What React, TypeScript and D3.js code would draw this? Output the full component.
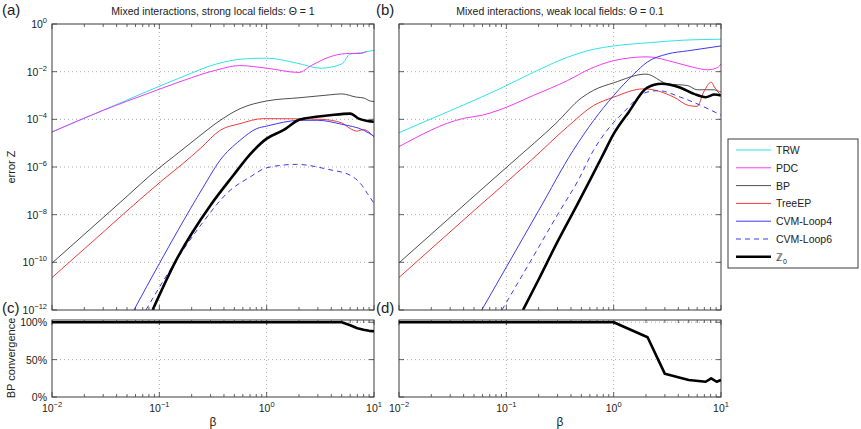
import * as d3 from "d3";

type Pt = [number, number]; // [beta, value]

// (a) mixed interactions, strong local fields (Θ = 1): error in Z
const trwStrong: Pt[] = [[0.01, 2.95e-5], [0.03, 2.4e-4], [0.08, 1.6e-3], [0.166, 6.2e-3], [0.34, 2.1e-2], [0.6, 3.4e-2], [1, 3.7e-2], [1.9, 2.3e-2], [3.2, 1.4e-2], [5.0, 2.1e-2], [6.0, 5.5e-2], [8.1, 6.5e-2], [10, 7.9e-2]];
const pdcStrong: Pt[] = [[0.01, 2.95e-5], [0.03, 2.4e-4], [0.08, 1.26e-3], [0.166, 4.2e-3], [0.34, 1.17e-2], [0.56, 1.8e-2], [1, 1.4e-2], [2.0, 9.3e-3], [2.6, 1.8e-2], [4.2, 4.7e-2], [5.9, 5.8e-2], [7.5, 5.8e-2], [8.5, 7.1e-2]];
const bpStrong: Pt[] = [[0.01, 9.3e-11], [0.03, 7.6e-9], [0.05, 5.9e-8], [0.08, 4.0e-7], [0.166, 5.6e-6], [0.24, 2.1e-5], [0.367, 8.9e-5], [0.565, 2.8e-4], [1, 5.9e-4], [2.05, 8.1e-4], [3.9, 1.07e-3], [5.0, 1.17e-3], [6.9, 8.5e-4], [8, 7.9e-4], [9.3, 5.8e-4], [10, 5.6e-4]];
const treeEpStrong: Pt[] = [[0.01, 2.3e-11], [0.03, 1.86e-9], [0.05, 1.45e-8], [0.108, 2.9e-7], [0.166, 1.4e-6], [0.24, 5.9e-6], [0.37, 3.5e-5], [0.565, 6.6e-5], [0.93, 1.07e-4], [1.9, 1.05e-4], [3.2, 1.0e-4], [5.0, 7.1e-5], [6.0, 4.1e-5], [6.9, 3.2e-5], [8, 3.7e-5], [10, 1.8e-5]];
const loop4Strong: Pt[] = [[0.058, 1e-12], [0.1, 8.9e-11], [0.15, 2.3e-9], [0.257, 1.45e-7], [0.367, 1.9e-6], [0.565, 1.32e-5], [0.81, 4.1e-5], [1, 5.2e-5], [2.05, 9.1e-5], [3.0, 9.1e-5], [5.0, 6.2e-5], [8, 3.5e-5], [10, 1.95e-5]];
const loop6Strong: Pt[] = [[0.075, 1e-12], [0.115, 2.5e-11], [0.237, 3.1e-9], [0.457, 1.05e-7], [0.7, 3.8e-7], [1, 9.3e-7], [1.9, 1.29e-6], [3.76, 7.9e-7], [6.0, 4.5e-7], [7.5, 2.0e-7], [8.7, 7.6e-8], [10, 3.0e-8]];
const z0Strong: Pt[] = [[0.0866, 1e-12], [0.144, 1.26e-10], [0.3, 2.5e-8], [0.49, 4.5e-7], [0.7, 3.4e-6], [1, 1.55e-5], [1.43, 3.5e-5], [2.04, 9.8e-5], [3.9, 1.48e-4], [6.0, 1.74e-4], [7.2, 1.07e-4], [8.7, 8.5e-5], [10, 7.9e-5]];

// (b) mixed interactions, weak local fields (Θ = 0.1): error in Z
const trwWeak: Pt[] = [[0.01, 2.75e-5], [0.03, 2.3e-4], [0.0866, 1.9e-3], [0.178, 9.3e-3], [0.37, 4.0e-2], [0.65, 8.7e-2], [1, 0.12], [2.2, 0.166], [4.5, 0.21], [10, 0.23]];
const pdcWeak: Pt[] = [[0.01, 7.1e-6], [0.04, 1.1e-4], [0.06, 1.5e-4], [0.0866, 2.5e-4], [0.178, 1.0e-3], [0.37, 4.2e-3], [0.6, 1.3e-2], [1, 2.9e-2], [2.05, 4.2e-2], [3.65, 2.5e-2], [5.6, 1.5e-2], [7.5, 1.2e-2], [9.3, 1.5e-2], [10, 2.1e-2]];
const bpWeak: Pt[] = [[0.01, 9.5e-11], [0.05, 6.0e-8], [0.115, 1.66e-6], [0.29, 6.8e-5], [0.5, 7.9e-4], [0.65, 1.66e-3], [1, 3.4e-3], [2.0, 7.9e-3], [3.16, 3.1e-3], [4.9, 2.6e-3], [6.0, 1.74e-3], [8.7, 1.74e-3], [10, 1.0e-3]];
const treeEpWeak: Pt[] = [[0.01, 2.3e-11], [0.05, 1.48e-8], [0.171, 1.95e-6], [0.37, 4.8e-5], [0.65, 3.8e-4], [1, 8.5e-4], [1.9, 1.9e-3], [3.65, 8.5e-4], [5.0, 3.8e-4], [6.0, 3.5e-4], [6.9, 1.4e-3], [8.1, 3.6e-3], [8.9, 1.9e-3], [10, 1.4e-3]];
const loop4Weak: Pt[] = [[0.059, 1e-12], [0.1, 6.3e-11], [0.2, 1.48e-8], [0.42, 5.0e-6], [0.65, 8.9e-5], [1, 1.0e-3], [1.54, 7.9e-3], [2.05, 2.5e-2], [3.16, 5.5e-2], [4.9, 7.5e-2], [10, 0.12]];
const loop6Weak: Pt[] = [[0.091, 1e-12], [0.2, 4.3e-10], [0.3, 1e-8], [0.47, 2.9e-7], [0.65, 5.1e-6], [0.87, 3.5e-5], [1.24, 2.0e-4], [2.04, 1.38e-3], [2.6, 1.6e-3], [4.2, 8.5e-4], [6.5, 3.8e-4], [10, 1.5e-4]];
const z0Weak: Pt[] = [[0.143, 1e-12], [0.2, 1.9e-11], [0.3, 7.4e-10], [0.45, 2.3e-8], [0.61, 3.2e-7], [0.78, 2.75e-6], [1, 2.45e-5], [1.38, 2.0e-4], [2.04, 2.1e-3], [2.8, 3.1e-3], [4.2, 2.1e-3], [5.6, 1.17e-3], [7.2, 8.5e-4], [8.7, 1.1e-3], [10, 1.0e-3]];

// (c), (d) fraction of instances where BP converged
const convStrong: Pt[] = [[0.01, 1], [5, 1], [6, 0.96], [7, 0.92], [8, 0.9], [9, 0.885], [10, 0.88]];
const convWeak: Pt[] = [[0.01, 1], [1, 1], [2.07, 0.8], [3, 0.31], [5, 0.227], [7.2, 0.204], [8.1, 0.25], [9.1, 0.204], [10, 0.227]];

const methodNames = ["TRW", "PDC", "BP", "TreeEP", "CVM-Loop4", "CVM-Loop6", "Z0"];
const styles: Record<string, { color: string; width: number; dash?: string }> = {
  TRW: { color: "#2fe3e6", width: 1 },
  PDC: { color: "#f03cf0", width: 1 },
  BP: { color: "#3a3a3a", width: 0.9 },
  TreeEP: { color: "#f23a3a", width: 1 },
  "CVM-Loop4": { color: "#3a3af2", width: 1 },
  "CVM-Loop6": { color: "#3a3af2", width: 1, dash: "5,4" },
  Z0: { color: "#000", width: 2.6 },
};

const strongSeries = [trwStrong, pdcStrong, bpStrong, treeEpStrong, loop4Strong, loop6Strong, z0Strong];
const weakSeries = [trwWeak, pdcWeak, bpWeak, treeEpWeak, loop4Weak, loop6Weak, z0Weak];

const errTicks = [1, 1e-2, 1e-4, 1e-6, 1e-8, 1e-10, 1e-12];
const betaTicks = [0.01, 0.1, 1, 10];
const convTicks = [0, 0.5, 1];

const FONT = "'Liberation Sans', Arial, sans-serif";
const frameColor = "#3c3c3c";
const gridColor = "#9a9a9a";

const TOP = 24, BOT = 310, CTOP = 320, CBOT = 397;
const yErr = d3.scaleLog().domain([1e-12, 1]).range([BOT, TOP]);
const yConv = d3.scaleLinear().domain([0, 1.03]).range([CBOT, CTOP]);

const minorBetas: number[] = [];
for (const dec of [0.01, 0.1, 1]) for (let k = 2; k <= 9; k++) minorBetas.push(dec * k);

function Pow({ x, y, exp, anchor }: { x: number; y: number; exp: number; anchor: "end" | "middle" }) {
  const e = exp < 0 ? `\u2212${-exp}` : `${exp}`;
  return (
    <text x={x} y={y} textAnchor={anchor} fontSize={10.5} fontFamily={FONT} fill="#222">
      10<tspan dy={-5} fontSize={7.5}>{e}</tspan>
    </text>
  );
}

function XTicks({ x, y0, y1 }: { x: d3.ScaleLogarithmic<number, number>; y0: number; y1: number }) {
  return (
    <g stroke={frameColor} strokeWidth={0.8}>
      {betaTicks.map((b) => (
        <g key={"M" + b}>
          <line x1={x(b)} x2={x(b)} y1={y1} y2={y1 - 5} />
          <line x1={x(b)} x2={x(b)} y1={y0} y2={y0 + 5} />
        </g>
      ))}
      {minorBetas.map((b) => (
        <g key={"m" + b}>
          <line x1={x(b)} x2={x(b)} y1={y1} y2={y1 - 3} />
          <line x1={x(b)} x2={x(b)} y1={y0} y2={y0 + 3} />
        </g>
      ))}
    </g>
  );
}

function ErrorPanel({ x, series, id, showLabels }: { x: d3.ScaleLogarithmic<number, number>; series: Pt[][]; id: string; showLabels: boolean }) {
  const [x0, x1] = x.range();
  const line = d3
    .line<Pt>()
    .x((d) => x(d[0]))
    .y((d) => yErr(d[1]))
    .curve(d3.curveMonotoneX);
  return (
    <g>
      <clipPath id={id}>
        <rect x={x0} y={TOP} width={x1 - x0} height={BOT - TOP} />
      </clipPath>
      <g stroke={gridColor} strokeWidth={0.8} strokeDasharray="1,3">
        {[0.1, 1].map((b) => (
          <line key={b} x1={x(b)} x2={x(b)} y1={TOP} y2={BOT} />
        ))}
        {errTicks.slice(1, -1).map((v) => (
          <line key={v} x1={x0} x2={x1} y1={yErr(v)} y2={yErr(v)} />
        ))}
      </g>
      <g clipPath={`url(#${id})`} fill="none" strokeLinejoin="round">
        {series.map((s, i) => {
          const st = styles[methodNames[i]];
          return <path key={i} d={line(s) ?? ""} stroke={st.color} strokeWidth={st.width} strokeDasharray={st.dash} />;
        })}
      </g>
      <XTicks x={x} y0={TOP} y1={BOT} />
      <g stroke={frameColor} strokeWidth={0.8}>
        {errTicks.map((v) => (
          <g key={v}>
            <line x1={x0} x2={x0 + 5} y1={yErr(v)} y2={yErr(v)} />
            <line x1={x1} x2={x1 - 5} y1={yErr(v)} y2={yErr(v)} />
          </g>
        ))}
      </g>
      <rect x={x0} y={TOP} width={x1 - x0} height={BOT - TOP} fill="none" stroke={frameColor} strokeWidth={1} />
      {showLabels &&
        errTicks.map((v) => <Pow key={v} x={x0 - 5} y={yErr(v) + 4} exp={Math.round(Math.log10(v))} anchor="end" />)}
    </g>
  );
}

function ConvPanel({ x, data, id, showLabels }: { x: d3.ScaleLogarithmic<number, number>; data: Pt[]; id: string; showLabels: boolean }) {
  const [x0, x1] = x.range();
  const line = d3
    .line<Pt>()
    .x((d) => x(d[0]))
    .y((d) => yConv(d[1]));
  return (
    <g>
      <clipPath id={id}>
        <rect x={x0} y={CTOP - 3} width={x1 - x0} height={CBOT - CTOP + 3} />
      </clipPath>
      <g stroke={gridColor} strokeWidth={0.8} strokeDasharray="1,3">
        {[0.1, 1].map((b) => (
          <line key={b} x1={x(b)} x2={x(b)} y1={CTOP} y2={CBOT} />
        ))}
        {[0.5, 1].map((v) => (
          <line key={v} x1={x0} x2={x1} y1={yConv(v)} y2={yConv(v)} />
        ))}
      </g>
      <XTicks x={x} y0={CTOP} y1={CBOT} />
      <g stroke={frameColor} strokeWidth={0.8}>
        {convTicks.map((v) => (
          <g key={v}>
            <line x1={x0} x2={x0 + 5} y1={yConv(v)} y2={yConv(v)} />
            <line x1={x1} x2={x1 - 5} y1={yConv(v)} y2={yConv(v)} />
          </g>
        ))}
      </g>
      <rect x={x0} y={CTOP} width={x1 - x0} height={CBOT - CTOP} fill="none" stroke={frameColor} strokeWidth={1} />
      <path clipPath={`url(#${id})`} d={line(data) ?? ""} fill="none" stroke="#000" strokeWidth={2.6} strokeLinejoin="round" />
      {showLabels &&
        convTicks.map((v) => (
          <text key={v} x={x0 - 5} y={yConv(v) + 4} textAnchor="end" fontSize={10.5} fontFamily={FONT} fill="#222">
            {`${v * 100}%`}
          </text>
        ))}
      {betaTicks.map((b) => (
        <Pow key={b} x={x(b)} y={412} exp={Math.round(Math.log10(b))} anchor="middle" />
      ))}
      <text x={(x0 + x1) / 2} y={426} textAnchor="middle" fontSize={12} fontFamily={FONT} fill="#222">
        β
      </text>
    </g>
  );
}

function Legend() {
  const lx = 728, ly = 139, w = 130, h = 129;
  return (
    <g fontFamily={FONT} fontSize={10.5} fill="#222">
      <rect x={lx} y={ly} width={w} height={h} fill="#fff" stroke={frameColor} strokeWidth={1} />
      {methodNames.map((m, i) => {
        const y = ly + 11 + i * 17.8;
        const st = styles[m];
        return (
          <g key={m}>
            <line x1={lx + 8} x2={lx + 43} y1={y} y2={y} stroke={st.color} strokeWidth={st.width} strokeDasharray={st.dash} />
            {m === "Z0" ? (
              <text x={lx + 48} y={y + 4}>
                ℤ<tspan dy={3} fontSize={7}>0</tspan>
              </text>
            ) : (
              <text x={lx + 48} y={y + 4}>
                {m}
              </text>
            )}
          </g>
        );
      })}
    </g>
  );
}

export default function App() {
  const xA = d3.scaleLog().domain([0.01, 10]).range([52, 374]);
  const xB = d3.scaleLog().domain([0.01, 10]).range([399, 721]);
  return (
    <svg width={861} height={429} style={{ position: "absolute", left: 0, top: 0, background: "#fff" }}>
      <rect width={861} height={429} fill="#fff" />
      <g fontFamily={FONT} fill="#222">
        <text x={213} y={15} textAnchor="middle" fontSize={10.5}>
          Mixed interactions, strong local fields: Θ = 1
        </text>
        <text x={560} y={15} textAnchor="middle" fontSize={10.5}>
          Mixed interactions, weak local fields: Θ = 0.1
        </text>
        <text x={2} y={15} fontSize={15}>(a)</text>
        <text x={376} y={15} fontSize={15}>(b)</text>
        <text x={2} y={313} fontSize={15}>(c)</text>
        <text x={376} y={313} fontSize={15}>(d)</text>
        <text transform="translate(15,167) rotate(-90)" textAnchor="middle" fontSize={11}>
          error Z
        </text>
        <text transform="translate(15,358) rotate(-90)" textAnchor="middle" fontSize={11}>
          BP convergence
        </text>
      </g>
      <ErrorPanel x={xA} series={strongSeries} id="clipA" showLabels={true} />
      <ErrorPanel x={xB} series={weakSeries} id="clipB" showLabels={false} />
      <ConvPanel x={xA} data={convStrong} id="clipC" showLabels={true} />
      <ConvPanel x={xB} data={convWeak} id="clipD" showLabels={false} />
      <Legend />
    </svg>
  );
}
